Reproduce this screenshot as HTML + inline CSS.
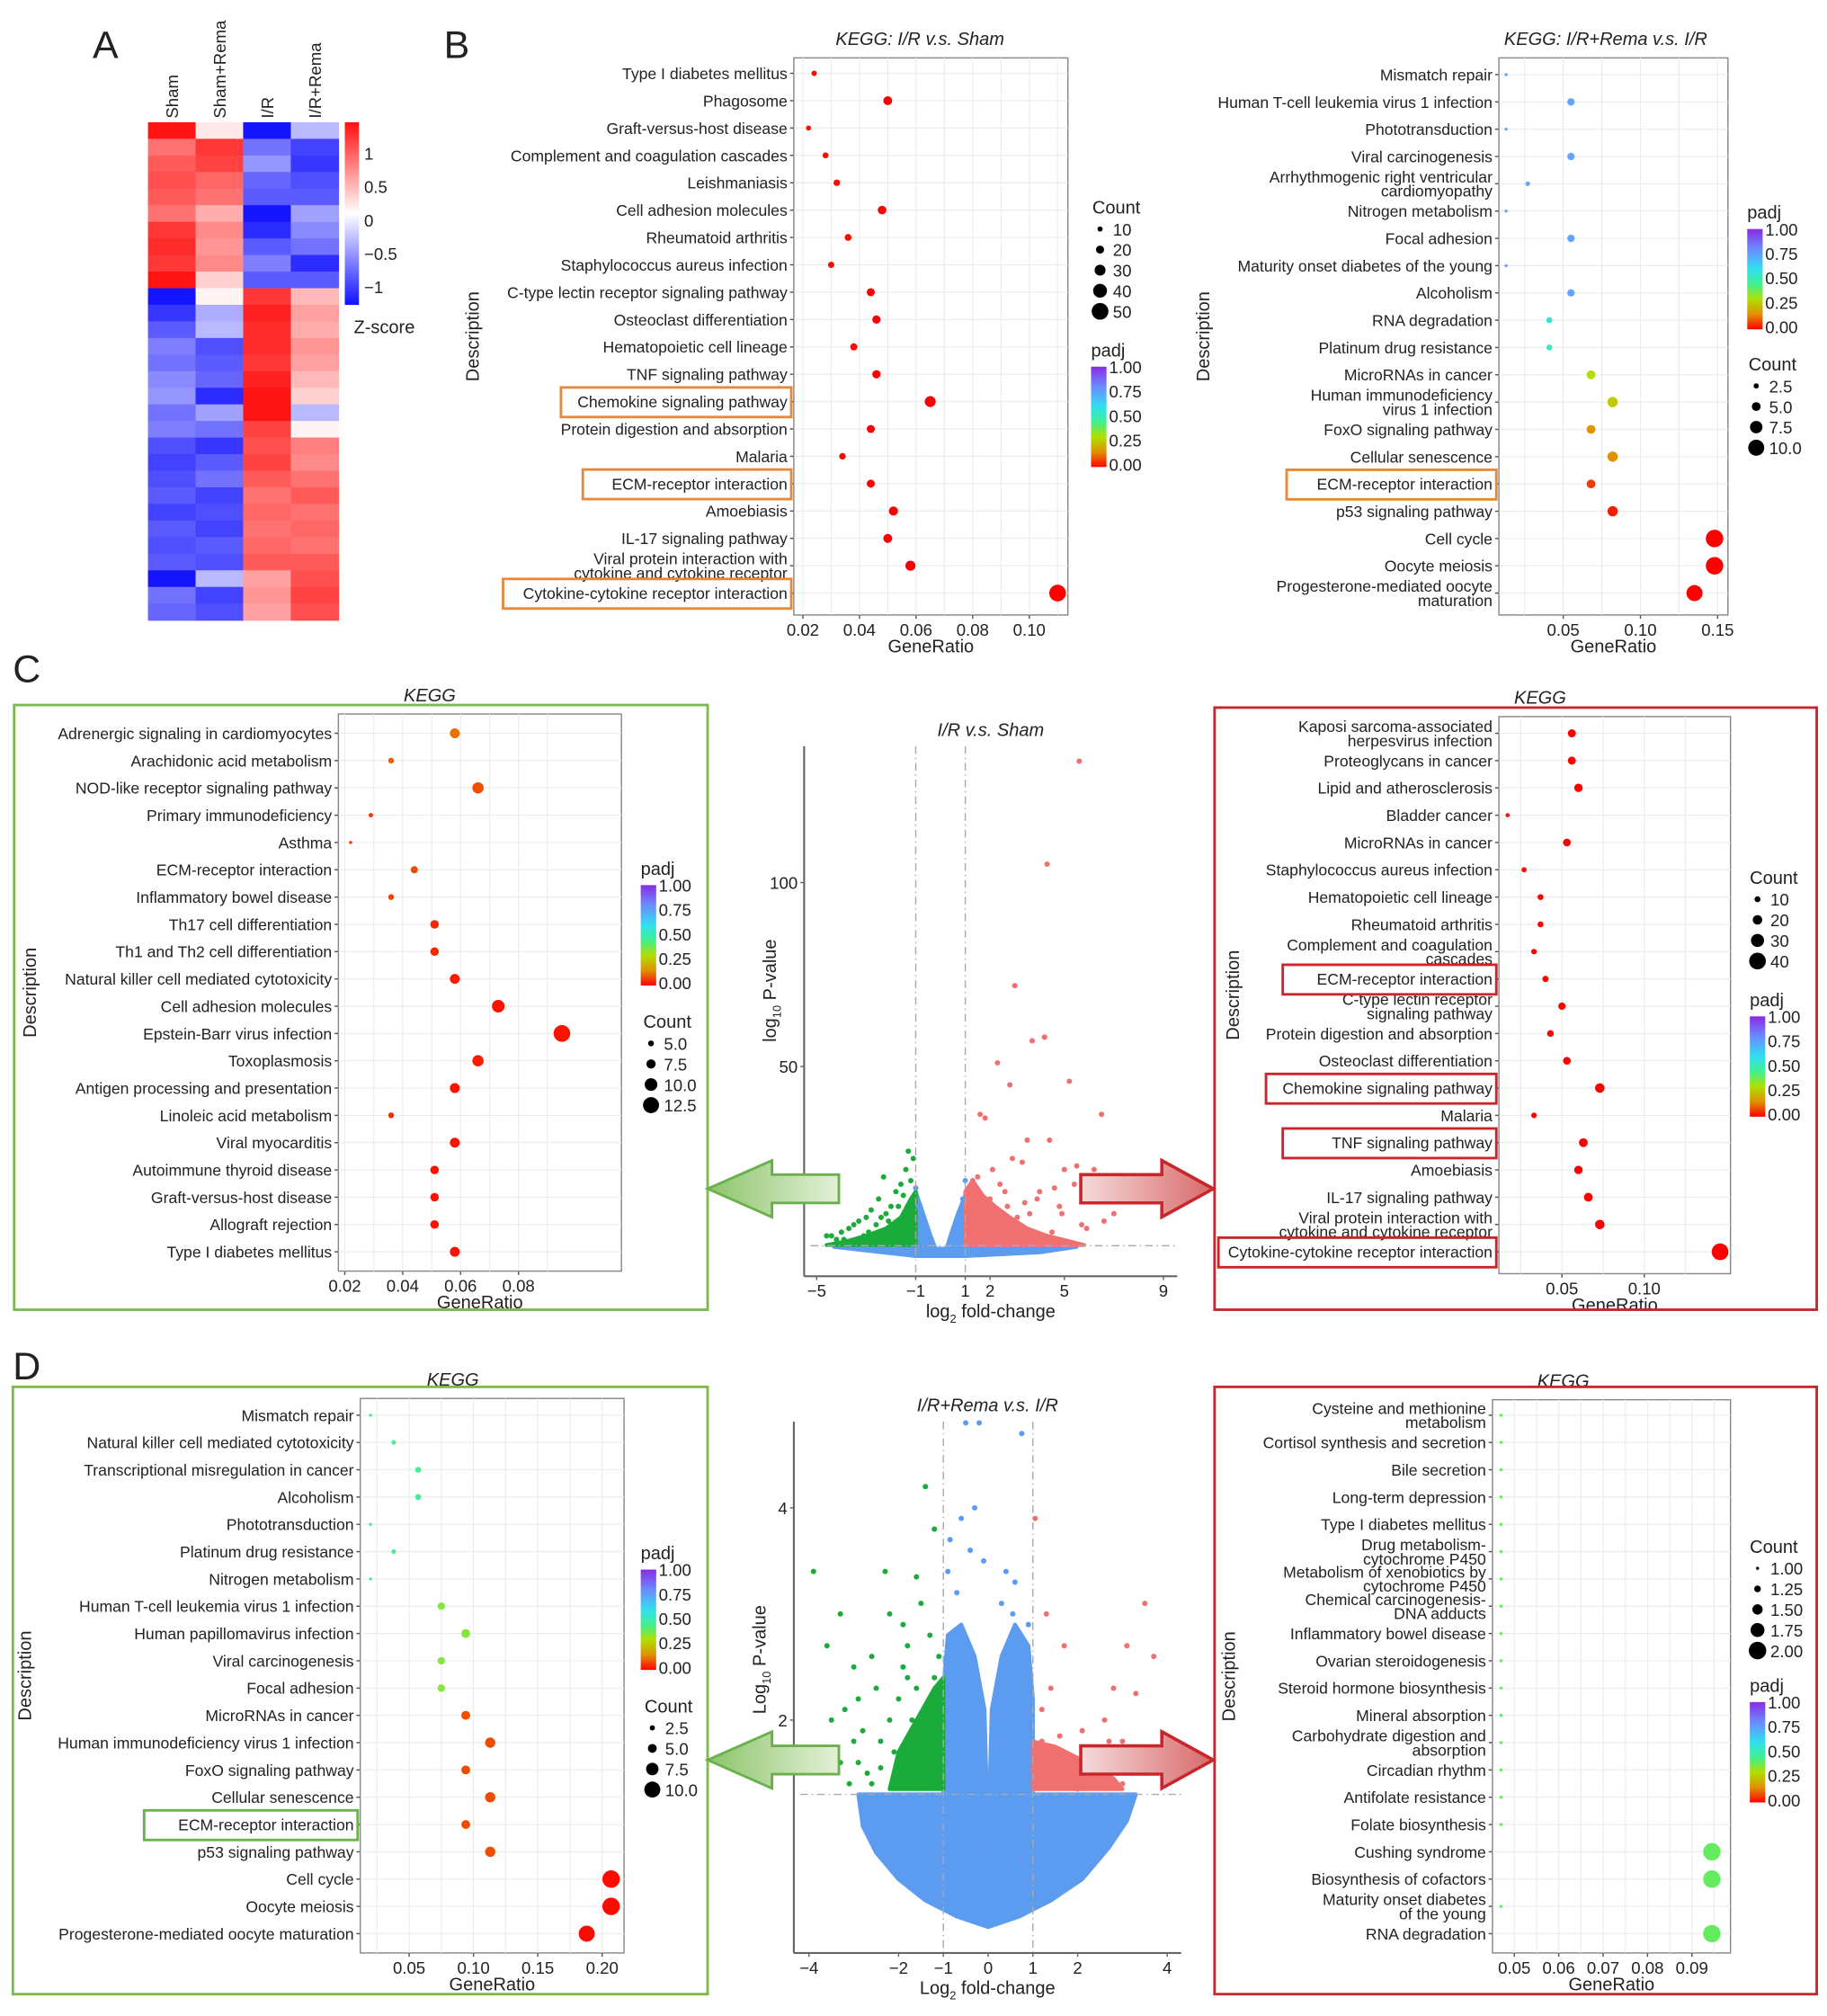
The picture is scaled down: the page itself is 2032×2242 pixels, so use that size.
<!DOCTYPE html>
<html><head><meta charset="utf-8"><style>
html,body{margin:0;padding:0;background:#fff}
svg{display:block}
text{font-family:"Liberation Sans",Arial,sans-serif;fill:#222}
</style></head><body>
<svg id="fig" xmlns="http://www.w3.org/2000/svg" width="2032" height="2242" viewBox="0 0 1420 1567" preserveAspectRatio="none">
<defs>
<linearGradient id="padjGrad" x1="0" y1="0" x2="0" y2="1">
<stop offset="0" stop-color="#8a2be2"/><stop offset="0.2" stop-color="#6a8cff"/><stop offset="0.4" stop-color="#30e0f0"/><stop offset="0.55" stop-color="#40f090"/><stop offset="0.7" stop-color="#b0e000"/><stop offset="0.85" stop-color="#e09000"/><stop offset="1" stop-color="#ff0000"/>
</linearGradient>
<linearGradient id="zGrad" x1="0" y1="0" x2="0" y2="1">
<stop offset="0" stop-color="#ff1010"/><stop offset="0.5" stop-color="#ffffff"/><stop offset="1" stop-color="#1010ff"/>
</linearGradient>
<linearGradient id="gArrow" x1="1" y1="0" x2="0" y2="0"><stop offset="0" stop-color="#e4f0d8"/><stop offset="1" stop-color="#8cc46a"/></linearGradient>
<linearGradient id="rArrow" x1="0" y1="0" x2="1" y2="0"><stop offset="0" stop-color="#f6dada"/><stop offset="1" stop-color="#d86a6a"/></linearGradient>
</defs>
<g id="root"></g>
</svg>
<script>
// ---------- DATA ----------
const heatCols = ["Sham","Sham+Rema","I/R","I/R+Rema"];
const heatSham = [1,0.6,0.7,0.75,0.7,0.6,0.85,0.9,0.85,1,-1,-0.85,-0.7,-0.55,-0.6,-0.5,-0.45,-0.6,-0.55,-0.75,-0.8,-0.75,-0.7,-0.8,-0.7,-0.75,-0.7,-1,-0.6,-0.65];
const heatShamRema = [0.1,0.85,0.8,0.65,0.6,0.35,0.5,0.45,0.5,0.2,0.05,-0.35,-0.3,-0.75,-0.7,-0.65,-0.9,-0.4,-0.6,-0.85,-0.7,-0.6,-0.8,-0.75,-0.8,-0.7,-0.75,-0.3,-0.8,-0.75];
const heatIR = [-1,-0.6,-0.45,-0.65,-0.7,-1,-0.9,-0.7,-0.55,-0.7,0.85,0.95,0.9,0.9,0.85,0.95,1,1,0.8,0.75,0.8,0.7,0.6,0.65,0.6,0.65,0.7,0.4,0.45,0.4];
const heatIRRema = [-0.3,-0.8,-0.85,-0.75,-0.7,-0.4,-0.5,-0.6,-0.9,-0.7,0.3,0.4,0.35,0.45,0.4,0.3,0.2,-0.3,0.05,0.55,0.5,0.6,0.7,0.6,0.65,0.6,0.7,0.75,0.8,0.75];

const b1Labels = ["Type I diabetes mellitus","Phagosome","Graft-versus-host disease","Complement and coagulation cascades","Leishmaniasis","Cell adhesion molecules","Rheumatoid arthritis","Staphylococcus aureus infection","C-type lectin receptor signaling pathway","Osteoclast differentiation","Hematopoietic cell lineage","TNF signaling pathway","Chemokine signaling pathway","Protein digestion and absorption","Malaria","ECM-receptor interaction","Amoebiasis","IL-17 signaling pathway","Viral protein interaction with\ncytokine and cytokine receptor","Cytokine-cytokine receptor interaction"];
const b1Ratio = [0.024,0.050,0.022,0.028,0.032,0.048,0.036,0.030,0.044,0.046,0.038,0.046,0.065,0.044,0.034,0.044,0.052,0.050,0.058,0.110];
const b1Count = [11,23,10,13,15,22,16,14,20,21,17,21,30,20,15,20,24,23,27,50];
const b1Padj = [0.01,0,0.02,0.01,0.01,0,0.01,0.01,0,0,0.01,0,0,0,0.01,0,0,0,0,0];

const b2Labels = ["Mismatch repair","Human T-cell leukemia virus 1 infection","Phototransduction","Viral carcinogenesis","Arrhythmogenic right ventricular\ncardiomyopathy","Nitrogen metabolism","Focal adhesion","Maturity onset diabetes of the young","Alcoholism","RNA degradation","Platinum drug resistance","MicroRNAs in cancer","Human immunodeficiency\nvirus 1 infection","FoxO signaling pathway","Cellular senescence","ECM-receptor interaction","p53 signaling pathway","Cell cycle","Oocyte meiosis","Progesterone-mediated oocyte\nmaturation"];
const b2Ratio = [0.013,0.055,0.013,0.055,0.027,0.013,0.055,0.013,0.055,0.041,0.041,0.068,0.082,0.068,0.082,0.068,0.082,0.148,0.148,0.135];
const b2Count = [1,4,1,4,2,1,4,1,4,3,3,5,6,5,6,5,6,11,11,10];
const b2Padj = [0.78,0.78,0.78,0.78,0.78,0.78,0.78,0.78,0.78,0.55,0.52,0.3,0.26,0.16,0.15,0.06,0.03,0,0,0];

const clLabels = ["Adrenergic signaling in cardiomyocytes","Arachidonic acid metabolism","NOD-like receptor signaling pathway","Primary immunodeficiency","Asthma","ECM-receptor interaction","Inflammatory bowel disease","Th17 cell differentiation","Th1 and Th2 cell differentiation","Natural killer cell mediated cytotoxicity","Cell adhesion molecules","Epstein-Barr virus infection","Toxoplasmosis","Antigen processing and presentation","Linoleic acid metabolism","Viral myocarditis","Autoimmune thyroid disease","Graft-versus-host disease","Allograft rejection","Type I diabetes mellitus"];
const clRatio = [0.058,0.036,0.066,0.029,0.022,0.044,0.036,0.051,0.051,0.058,0.073,0.095,0.066,0.058,0.036,0.058,0.051,0.051,0.051,0.058];
const clCount = [8,5,9,4,3,6,5,7,7,8,10,13,9,8,5,8,7,7,7,8];
const clPadj = [0.12,0.1,0.08,0.06,0.05,0.08,0.07,0.04,0.04,0.03,0.02,0.02,0.03,0.02,0.05,0.02,0.02,0.02,0.02,0.02];

const crLabels = ["Kaposi sarcoma-associated\nherpesvirus infection","Proteoglycans in cancer","Lipid and atherosclerosis","Bladder cancer","MicroRNAs in cancer","Staphylococcus aureus infection","Hematopoietic cell lineage","Rheumatoid arthritis","Complement and coagulation\ncascades","ECM-receptor interaction","C-type lectin receptor\nsignaling pathway","Protein digestion and absorption","Osteoclast differentiation","Chemokine signaling pathway","Malaria","TNF signaling pathway","Amoebiasis","IL-17 signaling pathway","Viral protein interaction with\ncytokine and cytokine receptor","Cytokine-cytokine receptor interaction"];
const crRatio = [0.056,0.056,0.060,0.017,0.053,0.027,0.037,0.037,0.033,0.040,0.050,0.043,0.053,0.073,0.033,0.063,0.060,0.066,0.073,0.146];
const crCount = [16,16,17,5,15,8,10,10,9,11,14,12,15,20,9,18,17,18,20,40];
const crPadj = [0,0,0,0.01,0,0.01,0,0,0,0,0,0,0,0,0,0,0,0,0,0];

const dlLabels = ["Mismatch repair","Natural killer cell mediated cytotoxicity","Transcriptional misregulation in cancer","Alcoholism","Phototransduction","Platinum drug resistance","Nitrogen metabolism","Human T-cell leukemia virus 1 infection","Human papillomavirus infection","Viral carcinogenesis","Focal adhesion","MicroRNAs in cancer","Human immunodeficiency virus 1 infection","FoxO signaling pathway","Cellular senescence","ECM-receptor interaction","p53 signaling pathway","Cell cycle","Oocyte meiosis","Progesterone-mediated oocyte maturation"];
const dlRatio = [0.020,0.038,0.057,0.057,0.020,0.038,0.020,0.075,0.094,0.075,0.075,0.094,0.113,0.094,0.113,0.094,0.113,0.207,0.207,0.188];
const dlCount = [1,2,3,3,1,2,1,4,5,4,4,5,6,5,6,5,6,11,11,10];
const dlPadj = [0.45,0.45,0.45,0.45,0.45,0.45,0.45,0.36,0.36,0.36,0.36,0.08,0.08,0.08,0.08,0.08,0.08,0.01,0.01,0.01];

const drLabels = ["Cysteine and methionine\nmetabolism","Cortisol synthesis and secretion","Bile secretion","Long-term depression","Type I diabetes mellitus","Drug metabolism-\ncytochrome P450","Metabolism of xenobiotics by\ncytochrome P450","Chemical carcinogenesis-\nDNA adducts","Inflammatory bowel disease","Ovarian steroidogenesis","Steroid hormone biosynthesis","Mineral absorption","Carbohydrate digestion and\nabsorption","Circadian rhythm","Antifolate resistance","Folate biosynthesis","Cushing syndrome","Biosynthesis of cofactors","Maturity onset diabetes\nof the young","RNA degradation"];
const drRatio = [0.047,0.047,0.047,0.047,0.047,0.047,0.047,0.047,0.047,0.047,0.047,0.047,0.047,0.047,0.047,0.047,0.0945,0.0945,0.047,0.0945];
const drCount = [1,1,1,1,1,1,1,1,1,1,1,1,1,1,1,1,2,2,1,2];
const drPadj = [0.4,0.4,0.4,0.4,0.4,0.4,0.4,0.4,0.4,0.4,0.4,0.4,0.4,0.4,0.4,0.4,0.4,0.4,0.4,0.4];

// volcano C (log2FC, -log10 P)
const vcRedX = [5.6,4.3,4.2,3,3.7,4.2,2.3,2.8,5.2,6.5,1.6,1.8,3.5,4.4,2.9,5.5,6.2,3.3,2.1,5,5.4,4.6,6,7,1.5,2.6,3.9,4.8,6.6,5.9,2.4,3.1,2.0,2.7,3.6,4.0,4.9,5.7,1.3,2.2,3.4,4.5];
const vcRedY = [133,105,58,72,57,58,51,45,46,37,37,36,30,30,25,23,22,24,22,22,18,17,14,10,20,16,14,12,8,6,18,9,14,12,10,16,10,7,19,11,13,5];
const vcGreenX = [-1.3,-2.3,-1.6,-1.8,-2.5,-3,-3.7,-4.4,-4.6,-2,-1.4,-3.3,-2.8,-1.5,-2.2,-4,-3.5,-1.2,-2.6,-1.9,-3.1,-2.4,-1.7,-3.9,-2.9,-1.1,-2.1,-4.2];
const vcGreenY = [27,20,18,16,14,9,6,4,4,12,22,8,11,15,10,5,7,19,7,6,4,9,12,3,5,25,8,3];
const vcBlueX = [-1.0,-0.9,1.0,0.9,-0.8,0.8];
const vcBlueY = [17,12,19,14,8,9];
// volcano D
const vdGreenX = [-3.9,-1.4,-1.2,-2.3,-3.3,-3.6,-2.2,-1.6,-1.9,-1.5,-2.6,-3.0,-3.2,-1.8,-2.0,-2.8,-1.3,-2.4,-3.5,-1.1,-1.7,-2.1,-2.9,-3.4,-1.25,-1.55,-2.7,-1.05,-3.1,-2.0,-2.5,-1.9,-3.3,-2.2,-1.4,-2.9,-1.8,-2.6,-3.0,-1.2,-2.4,-1.6];
const vdGreenY = [3.4,4.2,3.8,3.4,3.0,2.7,3.0,3.35,2.9,3.1,2.6,2.5,2.1,2.4,2.2,1.9,2.8,1.8,2.0,2.6,2.0,1.7,1.6,1.7,2.2,1.6,1.5,1.9,1.4,1.45,2.3,2.5,1.6,2.0,1.9,2.2,2.7,1.4,1.8,2.4,1.55,2.3];
const vdRedX = [1.05,1.3,1.7,3.5,3.7,3.1,2.8,1.4,2.6,3.3,1.2,3.0,2.2,1.6,2.9,1.9,3.2,1.1,2.4,3.4,1.5,2.0,2.7,1.3,2.1,1.8,2.5,3.0,1.2,2.3];
const vdRedY = [3.9,3.0,2.7,3.1,2.6,2.7,2.3,2.3,2.0,2.25,2.1,1.8,1.7,1.85,1.5,1.6,1.55,1.7,1.45,1.6,1.4,1.35,1.8,1.55,1.9,1.45,1.6,1.4,1.8,1.5];
const vdBlueX = [-0.5,-0.2,0.75,-0.6,-0.3,0.4,-0.85,0.55,-0.7,-0.1,0.9,-0.4,0.3,-0.9,0.6];
const vdBlueY = [4.8,4.8,4.7,3.9,4.0,3.4,3.7,3.0,3.2,3.5,2.9,3.6,3.1,3.4,3.3];

// ---------- HELPERS ----------
const NS = "http://www.w3.org/2000/svg";
const root = document.getElementById("root");
function mk(tag, attrs, parent, txt){
  const e = document.createElementNS(NS, tag);
  for (const k in attrs) e.setAttribute(k, attrs[k]);
  if (txt !== undefined) e.textContent = txt;
  (parent || root).appendChild(e);
  return e;
}
function lerp(a,b,t){return a+(b-a)*t;}
function hex(c){return [parseInt(c.slice(1,3),16),parseInt(c.slice(3,5),16),parseInt(c.slice(5,7),16)];}
const padjStops = [[0,"#ff0000"],[0.15,"#e09000"],[0.3,"#b0e000"],[0.45,"#40f090"],[0.6,"#30e0f0"],[0.8,"#6a9cff"],[1,"#8a2be2"]];
function padjColor(v){
  for (let i=1;i<padjStops.length;i++){
    if (v<=padjStops[i][0]){
      const a=padjStops[i-1], b=padjStops[i], t=(v-a[0])/(b[0]-a[0]);
      const ca=hex(a[1]), cb=hex(b[1]);
      return "rgb("+ca.map((x,j)=>Math.round(lerp(x,cb[j],t))).join(",")+")";
    }
  }
  return "#8a2be2";
}
function zColor(z){
  const t=Math.min(1,Math.abs(z));
  if (z>=0) return "rgb(255,"+Math.round(255-235*t)+","+Math.round(255-235*t)+")";
  return "rgb("+Math.round(255-235*t)+","+Math.round(255-235*t)+",255)";
}

// ---------- PANEL LETTERS ----------
[["A",72,45],["B",345,45],["C",10,530],["D",10,1072]].forEach(l=>{
  const t = mk("text",{x:l[1],y:l[2],"font-size":30},root,l[0]);
  
  
});

// ---------- HEATMAP ----------
(function(){
  const g = mk("g",{});
  
  
  const cols=[heatSham,heatShamRema,heatIR,heatIRRema];
  const x0=115, w=37, y0=95, y1=482;
  cols.forEach((vals,ci)=>{
    const h=(y1-y0)/vals.length;
    vals.forEach((v,ri)=>{
      const r = mk("rect",{x:x0+ci*w,y:y0+ri*h,width:w+0.5,height:h+0.5,fill:zColor(v)},g);
      
      
    });
    const lab = mk("text",{x:0,y:0,"font-size":13,transform:"translate("+(x0+ci*w+w/2+5)+",92) rotate(-90)"},g,heatCols[ci]);
    
    
  });
  const cb = mk("rect",{x:268,y:95,width:11,height:142,fill:"url(#zGrad)"},g);
  
  
  [["1",119],["0.5",145],["0",171],["\u22120.5",197],["\u22121",223]].forEach(t=>{
    const e = mk("text",{x:283,y:t[1]+5,"font-size":13},g,t[0]);
    
    
  });
  const zt = mk("text",{x:275,y:259,"font-size":14},g,"Z-score");
  
  
})();

// ---------- DOT PLOT ----------
function dotplot(o){
  const g = mk("g",{});
  
  
  const X = v => o.px0 + (v-o.v0)*(o.px1-o.px0)/(o.v1-o.v0);
  const n = o.labels.length;
  const Y = i => o.ry0 + i*(o.ry1-o.ry0)/(n-1);
  const bg = mk("rect",{x:o.L,y:o.T,width:o.R-o.L,height:o.B-o.T,fill:"#fff",stroke:"#888","stroke-width":1},g);
  
  
  const step=(o.ticks[1]-o.ticks[0])/2;
  for (let v=o.ticks[0]-step; v<=o.ticks[o.ticks.length-1]+step+1e-9; v+=step){
    const x=X(v); if (x<=o.L||x>=o.R) continue;
    mk("line",{x1:x,x2:x,y1:o.T,y2:o.B,stroke:"#ececec","stroke-width":0.8},g);
  }
  for (let i=0;i<n;i++) mk("line",{x1:o.L,x2:o.R,y1:Y(i),y2:Y(i),stroke:"#ececec","stroke-width":0.8},g);
  o.ticks.forEach((v,i)=>{
    const x=X(v);
    mk("line",{x1:x,x2:x,y1:o.B,y2:o.B+3,stroke:"#555"},g);
    const t = mk("text",{x:x,y:o.B+16,"font-size":13,"text-anchor":"middle"},g,o.tickLabels[i]);
    
    
  });
  o.labels.forEach((lab,i)=>{
    const y=Y(i);
    mk("line",{x1:o.L-3,x2:o.L,y1:y,y2:y,stroke:"#555"},g);
    const parts=lab.split("\n");
    const t = mk("text",{x:o.L-5,y:y+4.5-(parts.length-1)*5.5,"font-size":12.3,"text-anchor":"end"},g);
    
    
    parts.forEach((p,k)=>mk("tspan",{x:o.L-5,dy:k?11:0},t,p));
  });
  o.ratio.forEach((v,i)=>{
    const c=o.count[i];
    const r=o.rmin+(c-o.cmin)/(o.cmax-o.cmin)*(o.rmax-o.rmin);
    const d = mk("circle",{cx:X(v),cy:Y(i),r:Math.max(0.8,r),fill:padjColor(o.padj[i])},g);
    
    
  });
  const tt = mk("text",{x:o.titleX,y:o.T-10,"font-size":14,"font-style":"italic","text-anchor":"middle"},g,o.title);
  
  
  const xt = mk("text",{x:(o.L+o.R)/2,y:o.B+29,"font-size":14,"text-anchor":"middle"},g,"GeneRatio");
  
  
  const yt = mk("text",{x:0,y:0,"font-size":14,"text-anchor":"middle",transform:"translate("+o.descX+","+((o.T+o.B)/2)+") rotate(-90)"},g,"Description");
  
  
  (o.boxes||[]).forEach(b=>{
    const y=Y(b[0]);
    const bx = mk("rect",{x:b[1],y:y-11,width:o.L-2-b[1],height:23,fill:"none",stroke:o.boxColor,"stroke-width":2},g);
    
    
  });
  const cl=o.countLeg;
  const ct = mk("text",{x:cl.x-6,y:cl.y,"font-size":14},g,"Count");
  
  
  cl.vals.forEach((c,k)=>{
    const yy=cl.y+16+k*16;
    const r=o.rmin+(c-o.cmin)/(o.cmax-o.cmin)*(o.rmax-o.rmin);
    const e = mk("circle",{cx:cl.x,cy:yy-4,r:Math.max(1,r),fill:"#000"},g);
    
    
    mk("text",{x:cl.x+10,y:yy+1,"font-size":13},g,cl.labels[k]);
  });
  const pl=o.padjLeg;
  const pt = mk("text",{x:pl.x,y:pl.y-8,"font-size":14},g,"padj");
  
  
  const bar = mk("rect",{x:pl.x,y:pl.y,width:12,height:78,fill:"url(#padjGrad)"},g);
  
  
  ["1.00","0.75","0.50","0.25","0.00"].forEach((s,k)=>{
    mk("text",{x:pl.x+14,y:pl.y+5+k*19,"font-size":13},g,s);
  });
}

dotplot({name:"kegg-ir-vs-sham",L:617,R:830,T:45,B:478,px0:624,v0:0.02,px1:800,v1:0.10,ry0:57,ry1:461,
  ticks:[0.02,0.04,0.06,0.08,0.10],tickLabels:["0.02","0.04","0.06","0.08","0.10"],
  labels:b1Labels,ratio:b1Ratio,count:b1Count,padj:b1Padj,cmin:10,cmax:50,rmin:2,rmax:6.5,
  title:"KEGG: I/R v.s. Sham",titleX:715,descX:372,boxes:[[12,436],[15,453],[19,391]],boxColor:"#e8883a",
  countLeg:{x:855,y:166,vals:[10,20,30,40,50],labels:["10","20","30","40","50"]},padjLeg:{x:848,y:285}});
dotplot({name:"kegg-irrema-vs-ir",L:1165,R:1343,T:45,B:478,px0:1215,v0:0.05,px1:1335,v1:0.15,ry0:58,ry1:461,
  ticks:[0.05,0.10,0.15],tickLabels:["0.05","0.10","0.15"],
  labels:b2Labels,ratio:b2Ratio,count:b2Count,padj:b2Padj,cmin:1,cmax:11,rmin:1.2,rmax:6.8,
  title:"KEGG: I/R+Rema v.s. I/R",titleX:1248,descX:940,boxes:[[15,1000]],boxColor:"#e8883a",
  countLeg:{x:1365,y:288,vals:[2.5,5,7.5,10],labels:["2.5","5.0","7.5","10.0"]},padjLeg:{x:1358,y:178}});
dotplot({name:"kegg-c-down",L:263,R:483,T:555,B:988,px0:268,v0:0.02,px1:403,v1:0.08,ry0:570,ry1:973,
  ticks:[0.02,0.04,0.06,0.08],tickLabels:["0.02","0.04","0.06","0.08"],
  labels:clLabels,ratio:clRatio,count:clCount,padj:clPadj,cmin:3,cmax:13,rmin:1.2,rmax:6.5,
  title:"KEGG",titleX:334,descX:28,boxes:[],boxColor:"#6ab04c",
  countLeg:{x:506,y:799,vals:[5,7.5,10,12.5],labels:["5.0","7.5","10.0","12.5"]},padjLeg:{x:498,y:688}});
dotplot({name:"kegg-c-up",L:1165,R:1345,T:557,B:990,px0:1214,v0:0.05,px1:1278,v1:0.10,ry0:570,ry1:973,
  ticks:[0.05,0.10],tickLabels:["0.05","0.10"],
  labels:crLabels,ratio:crRatio,count:crCount,padj:crPadj,cmin:5,cmax:40,rmin:1.6,rmax:6.5,
  title:"KEGG",titleX:1197,descX:963,boxes:[[9,997],[13,984],[15,997],[19,947]],boxColor:"#c8262b",
  countLeg:{x:1366,y:687,vals:[10,20,30,40],labels:["10","20","30","40"]},padjLeg:{x:1360,y:790}});
dotplot({name:"kegg-d-down",L:280,R:485,T:1087,B:1518,px0:318,v0:0.05,px1:468,v1:0.20,ry0:1100,ry1:1503,
  ticks:[0.05,0.10,0.15,0.20],tickLabels:["0.05","0.10","0.15","0.20"],
  labels:dlLabels,ratio:dlRatio,count:dlCount,padj:dlPadj,cmin:1,cmax:11,rmin:1.2,rmax:6.8,
  title:"KEGG",titleX:352,descX:24,boxes:[[15,112]],boxColor:"#6ab04c",
  countLeg:{x:507,y:1331,vals:[2.5,5,7.5,10],labels:["2.5","5.0","7.5","10.0"]},padjLeg:{x:498,y:1220}});
dotplot({name:"kegg-d-up",L:1160,R:1345,T:1088,B:1518,px0:1177,v0:0.05,px1:1315,v1:0.09,ry0:1100,ry1:1503,
  ticks:[0.05,0.06,0.07,0.08,0.09],tickLabels:["0.05","0.06","0.07","0.08","0.09"],
  labels:drLabels,ratio:drRatio,count:drCount,padj:drPadj,cmin:1,cmax:2,rmin:1.2,rmax:6.8,
  title:"KEGG",titleX:1215,descX:960,boxes:[],boxColor:"#c8262b",
  countLeg:{x:1366,y:1207,vals:[1,1.25,1.5,1.75,2],labels:["1.00","1.25","1.50","1.75","2.00"]},padjLeg:{x:1360,y:1323}});

// ---------- FRAMES & ARROWS ----------
[[11,548,539,470,"#7cba4e","frame-c-down"],[944,550,468,468,"#c8262b","frame-c-up"],[10,1078,540,472,"#7cba4e","frame-d-down"],[944,1078,468,472,"#c8262b","frame-d-up"]].forEach(f=>{
  const r = mk("rect",{x:f[0],y:f[1],width:f[2],height:f[3],fill:"none",stroke:f[4],"stroke-width":2});
  
  
});
function arrows(cy){
  const ga = mk("polygon",{points:`652,${cy-11} 600,${cy-11} 600,${cy-22} 550,${cy} 600,${cy+22} 600,${cy+11} 652,${cy+11}`,fill:"url(#gArrow)",stroke:"#6ab04c","stroke-width":2});
  
  
  const ra = mk("polygon",{points:`840,${cy-11} 903,${cy-11} 903,${cy-22} 943,${cy} 903,${cy+22} 903,${cy+11} 840,${cy+11}`,fill:"url(#rArrow)",stroke:"#c8262b","stroke-width":2.5});
  
  
}

// ---------- VOLCANO ----------
function volcano(o){
  const g = mk("g",{});
  
  
  const X = v => o.x0 + v*o.kx, Y = v => o.y0 - v*o.ky;
  o.blobs.forEach(b=>{
    const pts=b.pts.map(p=>X(p[0])+","+Y(p[1])).join(" ");
    const e = mk("polygon",{points:pts,fill:b.c,stroke:b.c,"stroke-width":3,"stroke-linejoin":"round"},g);
    
    
  });
  const sets=[[o.bx,o.by,"#5b9bf0"],[o.gx,o.gy,"#1aab3a"],[o.rx,o.ry,"#f07070"]];
  sets.forEach(s=>s[0].forEach((v,i)=>{
    const c = mk("circle",{cx:X(v),cy:Y(s[1][i]),r:2.1,fill:s[2]},g);
    
    
  }));
  [-1,1].forEach(v=>mk("line",{x1:X(v),x2:X(v),y1:o.T,y2:o.B,stroke:"#aaa","stroke-dasharray":"6,3,1,3"},g));
  mk("line",{x1:o.L+5,x2:o.R,y1:Y(o.thr),y2:Y(o.thr),stroke:"#aaa","stroke-dasharray":"6,3,1,3"},g);
  mk("line",{x1:o.L,x2:o.L,y1:o.T,y2:o.B,stroke:"#666","stroke-width":1.5},g);
  mk("line",{x1:o.L,x2:o.R,y1:o.B,y2:o.B,stroke:"#666","stroke-width":1.5},g);
  o.xt.forEach(v=>{
    mk("line",{x1:X(v),x2:X(v),y1:o.B,y2:o.B+3,stroke:"#666"},g);
    const t = mk("text",{x:X(v),y:o.B+16,"font-size":13,"text-anchor":"middle"},g,v<0?"\u2212"+(-v):String(v));
    
    
  });
  o.yt.forEach(v=>{
    mk("line",{x1:o.L-3,x2:o.L,y1:Y(v),y2:Y(v),stroke:"#666"},g);
    const t = mk("text",{x:o.L-5,y:Y(v)+5,"font-size":13,"text-anchor":"end"},g,String(v));
    
    
  });
  const tt = mk("text",{x:(o.L+o.R)/2,y:o.T-8,"font-size":14,"font-style":"italic","text-anchor":"middle"},g,o.title);
  
  
  const xl = mk("text",{x:(o.L+o.R)/2,y:o.B+32,"font-size":14,"text-anchor":"middle"},g);
  
  
  mk("tspan",{},xl,o.logWord);
  mk("tspan",{"font-size":9,dy:4},xl,"2");
  mk("tspan",{dy:-4},xl," fold-change");
  const yl = mk("text",{x:0,y:0,"font-size":14,"text-anchor":"middle",transform:`translate(${o.L-22},${o.ylabY}) rotate(-90)`},g);
  
  
  mk("tspan",{},yl,o.logWord);
  mk("tspan",{"font-size":9,dy:4},yl,"10");
  mk("tspan",{dy:-4},yl," P-value");
}
volcano({name:"volcano-ir-vs-sham",L:625,R:915,T:580,B:992,x0:731,kx:19.25,y0:972,ky:2.86,thr:1.3,ylabY:770,
  xt:[-5,-1,1,2,5,9],yt:[50,100],title:"I/R v.s. Sham",logWord:"log",
  blobs:[
    {n:"blue-cloud",c:"#5b9bf0",pts:[[-4.3,1],[-3,0],[-1,-1.5],[1,-1.5],[4,-0.5],[5.5,1],[1,1],[1,15],[0.7,10],[0.4,4],[0.25,0.5],[-0.2,0.5],[-0.4,4],[-0.7,10],[-1,16],[-1,1]]},
    {n:"green-cloud",c:"#1aab3a",pts:[[-4.6,1.5],[-3.8,2.5],[-3,4],[-2.2,6],[-1.6,9],[-1.2,14],[-1,16],[-1,1.5]]},
    {n:"red-cloud",c:"#f07070",pts:[[1,1.5],[1,16],[1.3,19],[1.7,15],[2.2,12],[2.8,9],[3.5,6],[4.3,4],[5.2,2.5],[5.8,1.5]]}],
  bx:vcBlueX,by:vcBlueY,gx:vcGreenX,gy:vcGreenY,rx:vcRedX,ry:vcRedY});
volcano({name:"volcano-irrema-vs-ir",L:617,R:918,T:1105,B:1518,x0:768,kx:34.8,y0:1502,ky:82.5,thr:1.3,ylabY:1290,
  xt:[-4,-2,-1,0,1,2,4],yt:[2,4],title:"I/R+Rema v.s. I/R",logWord:"Log",
  blobs:[
    {n:"blue-cloud",c:"#5b9bf0",pts:[[-2.9,1.3],[-2.8,1.0],[-2.5,0.75],[-2.0,0.5],[-1.4,0.3],[-0.7,0.15],[0,0.05],[0.7,0.15],[1.4,0.3],[2.1,0.5],[2.7,0.8],[3.1,1.05],[3.3,1.3],[1,1.3],[1,2.2],[0.9,2.7],[0.6,2.9],[0.3,2.6],[0.08,2.1],[0,0.8],[-0.08,2.1],[-0.3,2.6],[-0.6,2.9],[-0.9,2.8],[-1,2.3],[-1,1.3]]},
    {n:"green-cloud",c:"#1aab3a",pts:[[-2.2,1.35],[-2.0,1.7],[-1.6,2.0],[-1.2,2.3],[-1,2.4],[-1,1.35]]},
    {n:"red-cloud",c:"#f07070",pts:[[1,1.35],[1,1.8],[1.5,1.75],[2.2,1.6],[2.8,1.45],[3.0,1.35]]}],
  bx:vdBlueX,by:vdBlueY,gx:vdGreenX,gy:vdGreenY,rx:vdRedX,ry:vdRedY});
arrows(924);
arrows(1368);
</script>
</body></html>
